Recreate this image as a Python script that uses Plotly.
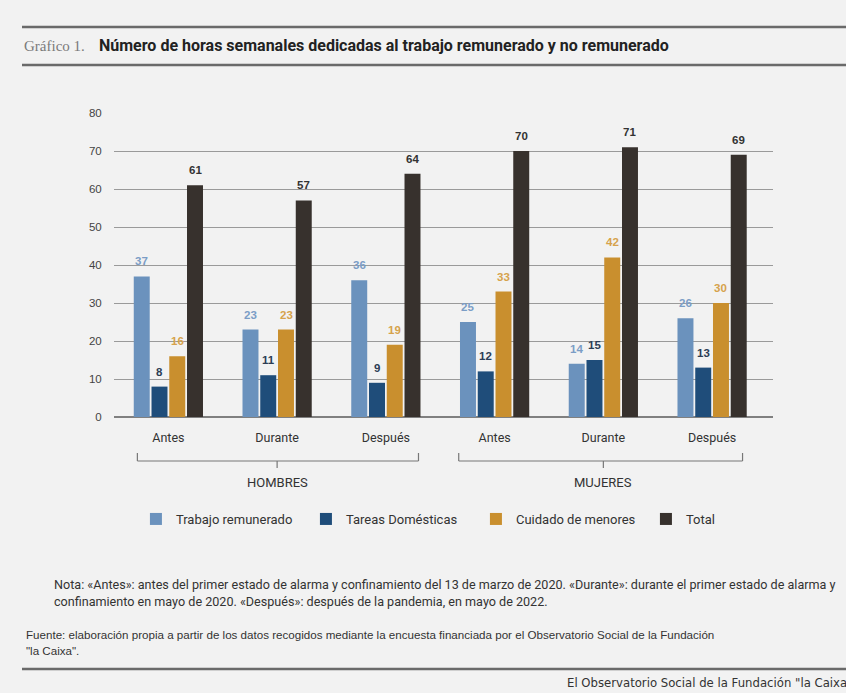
import plotly.graph_objects as go

# ---------------- data ----------------
categories = ["Antes", "Durante", "Después", "Antes", "Durante", "Después"]
groups = ["HOMBRES", "MUJERES"]
series_names = ["Trabajo remunerado", "Tareas Domésticas", "Cuidado de menores", "Total"]
trabajo_remunerado = [37, 23, 36, 25, 14, 26]
tareas_domesticas = [8, 11, 9, 12, 15, 13]
cuidado_menores = [16, 23, 19, 33, 42, 30]
total = [61, 57, 64, 70, 71, 69]
y_ticks = [0, 10, 20, 30, 40, 50, 60, 70, 80]

title_prefix = "Gráfico 1."
title_text = "Número de horas semanales dedicadas al trabajo remunerado y no remunerado"
nota_lines = [
    "Nota: «Antes»: antes del primer estado de alarma y confinamiento del 13 de marzo de 2020. «Durante»: durante el primer estado de alarma y",
    "confinamiento en mayo de 2020. «Después»: después de la pandemia, en mayo de 2022.",
]
fuente_lines = [
    "Fuente: elaboración propia a partir de los datos recogidos mediante la encuesta financiada por el Observatorio Social de la Fundación",
    "\"la Caixa\".",
]
footer_text = "El Observatorio Social de la Fundación \"la Caixa\""

# ---------------- styles ----------------
bar_colors = ["#6b92bd", "#1f4d7a", "#c98f2e", "#37312d"]
label_colors = ["#7b9dc6", "#2c3d55", "#d6a24c", "#333333"]
BG = "#f2f2f2"

W, H = 846, 693
L, R, T, B = 114, 73, 113, 276
PW, PH = W - L - R, H - T - B


def px(p):
    return (p - L) / PW


def py(p):
    return (H - B - p) / PH


series_values = [trabajo_remunerado, tareas_domesticas, cuidado_menores, total]
x_idx = list(range(len(categories)))
BARGAP = 0.347
slot = (1 - BARGAP) / len(series_values)

fig = go.Figure()
for name, vals, col in zip(series_names, series_values, bar_colors):
    fig.add_trace(go.Bar(
        x=x_idx, y=vals, name=name,
        marker=dict(color=col, line=dict(width=0)),
        hoverinfo="skip",
    ))

annotations = []
# value labels
for k, (vals, lc) in enumerate(zip(series_values, label_colors)):
    for i, v in enumerate(vals):
        annotations.append(dict(
            x=i + (k - 1.5) * slot, y=v, xref="x", yref="y",
            text=f"<b>{v}</b>", showarrow=False, yanchor="middle", yshift=15,
            font=dict(family="Liberation Sans, Arial", size=11.5, color=lc),
        ))

# group labels
group_centers = [1, 4]
for g, c in zip(groups, group_centers):
    annotations.append(dict(
        x=c, y=py(482), xref="x", yref="paper", text=g, showarrow=False,
        yanchor="middle", font=dict(family="Roboto, Arial", size=13, color="#333333"),
    ))

# title
annotations.append(dict(
    x=px(22), y=py(46), xref="paper", yref="paper", text=title_prefix, showarrow=False,
    xanchor="left", yanchor="middle",
    font=dict(family="Liberation Serif, serif", size=15, color="#7a7a7a"),
))
annotations.append(dict(
    x=px(97), y=py(46), xref="paper", yref="paper", text=f"<b>{title_text}</b>", showarrow=False,
    xanchor="left", yanchor="middle",
    font=dict(family="Roboto, Arial", size=16, color="#222222"),
))
# notes
for line, yy in zip(nota_lines, [584, 601]):
    annotations.append(dict(
        x=px(52), y=py(yy), xref="paper", yref="paper", text=line, showarrow=False,
        xanchor="left", yanchor="middle",
        font=dict(family="Roboto, Arial", size=12.6, color="#333333"),
    ))
for line, yy in zip(fuente_lines, [634, 650]):
    annotations.append(dict(
        x=px(24), y=py(yy), xref="paper", yref="paper", text=line, showarrow=False,
        xanchor="left", yanchor="middle",
        font=dict(family="Liberation Sans, Arial", size=11.6, color="#333333"),
    ))
annotations.append(dict(
    x=px(565), y=py(683), xref="paper", yref="paper", text=footer_text, showarrow=False,
    xanchor="left", yanchor="middle",
    font=dict(family="DejaVu Sans, sans-serif", size=11.7, color="#333333"),
))

shapes = []
LINE_COL = "#6a6a6a"
for yy in [27, 65, 669]:
    shapes.append(dict(type="line", xref="paper", yref="paper",
                       x0=px(22), x1=px(850), y0=py(yy), y1=py(yy),
                       line=dict(color=LINE_COL, width=2.5)))
# brackets
brackets = [(-0.285, 2.3, 1), (2.67, 5.28, 4)]
BR_COL = "#777777"
for x0, x1, xc in brackets:
    shapes.append(dict(type="line", xref="x", yref="paper", x0=x0, x1=x1, y0=py(461), y1=py(461),
                       line=dict(color=BR_COL, width=1.2)))
    for xe in (x0, x1):
        shapes.append(dict(type="line", xref="x", yref="paper", x0=xe, x1=xe, y0=py(453), y1=py(461),
                           line=dict(color=BR_COL, width=1.2)))
    shapes.append(dict(type="line", xref="x", yref="paper", x0=xc, x1=xc, y0=py(461), y1=py(468),
                       line=dict(color=BR_COL, width=1.2)))

fig.update_layout(
    width=W, height=H,
    margin=dict(l=L, r=R, t=T, b=B, autoexpand=False),
    paper_bgcolor=BG, plot_bgcolor=BG,
    barmode="group", bargap=BARGAP, bargroupgap=0.1,
    showlegend=True,
    legend=dict(
        orientation="h", xref="paper", yref="paper",
        x=-0.0001, y=py(519), xanchor="left", yanchor="middle",
        indentation=22,
        entrywidth=103, entrywidthmode="pixels",
        font=dict(family="Roboto, Arial", size=13, color="#333333"),
        bgcolor="rgba(0,0,0,0)", traceorder="normal",
        itemclick=False, itemdoubleclick=False,
    ),
    xaxis=dict(
        range=[-0.5, 5.56], tickmode="array", tickvals=x_idx, ticktext=categories,
        showgrid=False, zeroline=False, showline=False,
        ticks="outside", ticklen=9, tickcolor="rgba(0,0,0,0)",
        tickfont=dict(family="Roboto, Arial", size=12.5, color="#333333"),
        automargin=False, fixedrange=True,
    ),
    yaxis=dict(
        range=[0, 80], tickmode="array", tickvals=y_ticks,
        showgrid=True, gridcolor="#9a9a9a", gridwidth=1,
        zeroline=True, zerolinecolor="#808080", zerolinewidth=1.8, showline=False,
        ticks="outside", ticklen=9, tickcolor="rgba(0,0,0,0)",
        tickfont=dict(family="Liberation Sans, Arial", size=11.5, color="#444444"),
        automargin=False, fixedrange=True,
    ),
    annotations=annotations,
    shapes=shapes,
)

fig.write_html(
    "out.html",
    config={"displayModeBar": False},
    post_script="document.body.style.margin='0';document.body.style.overflow='hidden';",
)
